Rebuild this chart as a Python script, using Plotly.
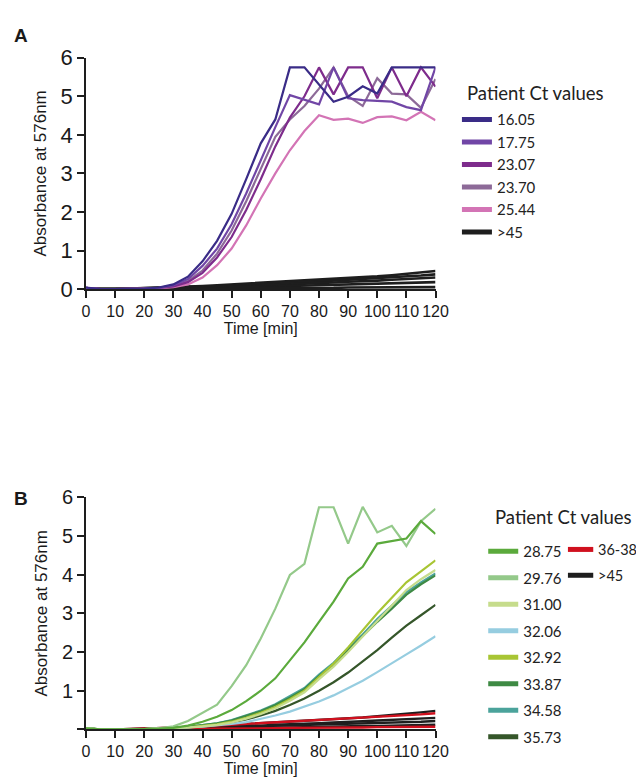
import plotly.graph_objects as go

# time points (min)
time = [0, 5, 10, 15, 20, 25, 30, 35, 40, 45, 50, 55, 60, 65, 70, 75, 80, 85, 90, 95, 100, 105, 110, 115, 120]

# ---- panel A: absorbance at 576nm ----
a_labels = ['16.05', '17.75', '23.07', '23.70', '25.44']
a_colors = ['#3A2C87', '#7146A6', '#7E2C8C', '#8D6A98', '#D374B5']
a_16_05 = [0.04, 0.0, 0.0, 0.0, 0.01, 0.04, 0.12, 0.32, 0.72, 1.25, 1.95, 2.85, 3.78, 4.40, 5.75, 5.75, 5.30, 4.86, 4.99, 5.26, 5.07, 5.75, 5.75, 5.75, 5.75]
a_17_75 = [0.03, 0.0, 0.0, 0.0, 0.01, 0.03, 0.10, 0.26, 0.60, 1.05, 1.68, 2.48, 3.35, 4.20, 5.03, 4.90, 4.79, 5.75, 4.95, 4.90, 4.88, 4.86, 4.72, 4.64, 5.75]
a_23_07 = [0.03, 0.0, 0.0, 0.0, 0.01, 0.03, 0.07, 0.18, 0.42, 0.82, 1.35, 2.05, 2.85, 3.70, 4.45, 5.00, 5.75, 5.05, 5.75, 5.75, 4.95, 5.75, 5.00, 5.75, 5.25]
a_23_70 = [0.03, 0.0, 0.0, 0.0, 0.01, 0.03, 0.08, 0.21, 0.48, 0.92, 1.52, 2.28, 3.12, 3.95, 4.40, 4.75, 5.20, 5.75, 5.00, 4.75, 5.47, 5.07, 5.05, 4.70, 5.45]
a_25_44 = [0.03, 0.0, 0.0, 0.0, 0.01, 0.02, 0.05, 0.12, 0.30, 0.62, 1.05, 1.65, 2.35, 3.00, 3.60, 4.10, 4.51, 4.39, 4.42, 4.31, 4.46, 4.48, 4.38, 4.60, 4.38]
a_series = [a_16_05, a_17_75, a_23_07, a_23_70, a_25_44]

# >45 negatives, panel A
a_neg = [
    [0.02, 0.0, 0.0, 0.01, 0.02, 0.03, 0.05, 0.06, 0.08, 0.10, 0.12, 0.14, 0.16, 0.18, 0.20, 0.22, 0.24, 0.26, 0.28, 0.30, 0.33, 0.36, 0.40, 0.43, 0.47],
    [0.02, 0.0, 0.0, 0.01, 0.02, 0.03, 0.04, 0.05, 0.07, 0.08, 0.10, 0.11, 0.13, 0.15, 0.16, 0.18, 0.20, 0.22, 0.24, 0.26, 0.28, 0.30, 0.33, 0.35, 0.38],
    [0.02, 0.0, 0.0, 0.0, 0.01, 0.02, 0.03, 0.04, 0.05, 0.06, 0.07, 0.08, 0.10, 0.11, 0.12, 0.14, 0.15, 0.17, 0.19, 0.20, 0.22, 0.24, 0.26, 0.28, 0.30],
    [0.02, 0.0, 0.0, 0.0, 0.01, 0.01, 0.02, 0.02, 0.03, 0.04, 0.04, 0.05, 0.06, 0.07, 0.08, 0.09, 0.10, 0.11, 0.12, 0.13, 0.14, 0.15, 0.16, 0.17, 0.18],
    [0.02, 0.0, 0.0, 0.0, 0.0, 0.0, 0.01, 0.01, 0.01, 0.01, 0.02, 0.02, 0.02, 0.02, 0.03, 0.03, 0.03, 0.03, 0.04, 0.04, 0.04, 0.04, 0.05, 0.05, 0.05],
]

# ---- panel B ----
b_labels = ['28.75', '29.76', '31.00', '32.06', '32.92', '33.87', '34.58', '35.73']
b_colors = ['#5BAA3C', '#94C98A', '#C6DC8C', '#96CDE0', '#A8C534', '#3E8A44', '#4BA39B', '#35562A']
b_28_75 = [0.03, 0.0, 0.0, 0.0, 0.01, 0.02, 0.04, 0.10, 0.20, 0.33, 0.50, 0.73, 1.00, 1.32, 1.78, 2.25, 2.78, 3.30, 3.90, 4.20, 4.80, 4.87, 4.93, 5.38, 5.05]
b_29_76 = [0.03, 0.0, 0.0, 0.0, 0.01, 0.03, 0.08, 0.22, 0.42, 0.64, 1.12, 1.66, 2.35, 3.12, 3.99, 4.28, 5.74, 5.74, 4.80, 5.75, 5.09, 5.26, 4.74, 5.38, 5.70]
b_31_00 = [0.03, 0.0, 0.0, 0.0, 0.01, 0.02, 0.03, 0.05, 0.08, 0.12, 0.18, 0.28, 0.40, 0.55, 0.74, 0.96, 1.30, 1.62, 2.00, 2.40, 2.82, 3.22, 3.60, 3.88, 4.12]
b_32_06 = [0.03, 0.0, 0.0, 0.0, 0.01, 0.02, 0.03, 0.05, 0.07, 0.10, 0.14, 0.19, 0.27, 0.36, 0.46, 0.58, 0.72, 0.88, 1.06, 1.26, 1.48, 1.70, 1.94, 2.17, 2.41]
b_32_92 = [0.03, 0.0, 0.0, 0.0, 0.01, 0.02, 0.03, 0.05, 0.09, 0.13, 0.20, 0.30, 0.43, 0.58, 0.78, 1.00, 1.35, 1.70, 2.12, 2.55, 3.00, 3.40, 3.80, 4.08, 4.37]
b_33_87 = [0.03, 0.0, 0.0, 0.0, 0.01, 0.02, 0.04, 0.07, 0.11, 0.16, 0.23, 0.34, 0.47, 0.63, 0.82, 1.04, 1.38, 1.68, 2.05, 2.40, 2.78, 3.12, 3.48, 3.75, 3.98]
b_34_58 = [0.03, 0.0, 0.0, 0.0, 0.01, 0.02, 0.04, 0.07, 0.11, 0.16, 0.24, 0.36, 0.49, 0.65, 0.85, 1.07, 1.42, 1.72, 2.10, 2.45, 2.85, 3.20, 3.55, 3.80, 4.03]
b_35_73 = [0.03, 0.0, 0.0, 0.0, 0.01, 0.02, 0.03, 0.05, 0.08, 0.12, 0.18, 0.26, 0.36, 0.48, 0.63, 0.80, 1.00, 1.22, 1.47, 1.75, 2.05, 2.37, 2.68, 2.95, 3.22]
b_series = [b_28_75, b_29_76, b_31_00, b_32_06, b_32_92, b_33_87, b_34_58, b_35_73]

# >45 negatives and 36-38 weak positives, panel B
b_neg = [
    [0.02, 0.0, 0.0, 0.01, 0.02, 0.03, 0.05, 0.06, 0.08, 0.10, 0.12, 0.14, 0.16, 0.18, 0.20, 0.22, 0.24, 0.26, 0.28, 0.31, 0.34, 0.37, 0.40, 0.44, 0.48],
    [0.02, 0.0, 0.0, 0.0, 0.01, 0.02, 0.03, 0.04, 0.05, 0.06, 0.08, 0.09, 0.10, 0.12, 0.13, 0.14, 0.16, 0.18, 0.19, 0.21, 0.23, 0.25, 0.27, 0.28, 0.30],
    [0.02, 0.0, 0.0, 0.0, 0.01, 0.01, 0.02, 0.03, 0.04, 0.05, 0.06, 0.07, 0.08, 0.09, 0.10, 0.11, 0.12, 0.13, 0.14, 0.15, 0.16, 0.18, 0.19, 0.20, 0.22],
    [0.02, 0.0, 0.0, 0.0, 0.0, 0.01, 0.01, 0.02, 0.02, 0.03, 0.03, 0.04, 0.04, 0.05, 0.05, 0.06, 0.07, 0.07, 0.08, 0.09, 0.09, 0.10, 0.11, 0.11, 0.12],
]
b_red = [
    [0.02, 0.0, 0.0, 0.01, 0.02, 0.03, 0.04, 0.06, 0.08, 0.10, 0.12, 0.14, 0.16, 0.18, 0.20, 0.22, 0.24, 0.26, 0.28, 0.30, 0.32, 0.34, 0.37, 0.39, 0.42],
    [0.02, 0.0, 0.0, 0.0, 0.0, 0.01, 0.01, 0.01, 0.02, 0.02, 0.02, 0.03, 0.03, 0.03, 0.04, 0.04, 0.04, 0.05, 0.05, 0.05, 0.06, 0.06, 0.06, 0.07, 0.07],
]
b_extra_labels = ['36-38', '>45']

legend_title = 'Patient Ct values'
black = '#1E1E1E'
red = '#D0101E'
axis_font = 'Liberation Sans, Arial, sans-serif'
legend_font = 'Lato, Open Sans, sans-serif'

fig = go.Figure()

# panel A curves
for ys in a_neg:
    fig.add_trace(go.Scatter(x=time, y=ys, mode='lines', line=dict(color=black, width=2.6),
                             showlegend=False, xaxis='x', yaxis='y', hoverinfo='skip'))
for ys, c, lab in zip(a_series[::-1], a_colors[::-1], a_labels[::-1]):
    fig.add_trace(go.Scatter(x=time, y=ys, mode='lines', line=dict(color=c, width=2.2),
                             showlegend=False, name=lab, xaxis='x', yaxis='y'))

# panel B curves
for ys in b_neg:
    fig.add_trace(go.Scatter(x=time, y=ys, mode='lines', line=dict(color=black, width=2.4),
                             showlegend=False, xaxis='x2', yaxis='y2', hoverinfo='skip'))
for ys in b_red:
    fig.add_trace(go.Scatter(x=time, y=ys, mode='lines', line=dict(color=red, width=2.4),
                             showlegend=False, xaxis='x2', yaxis='y2', hoverinfo='skip'))
for ys, c, lab in zip(b_series[::-1], b_colors[::-1], b_labels[::-1]):
    fig.add_trace(go.Scatter(x=time, y=ys, mode='lines', line=dict(color=c, width=2.2),
                             showlegend=False, name=lab, xaxis='x2', yaxis='y2'))

# legend entries (thick swatches)
for i, (lab, c) in enumerate(zip(a_labels + ['>45'], a_colors + [black])):
    fig.add_trace(go.Scatter(x=[None], y=[None], mode='lines', line=dict(color=c, width=5),
                             name=lab, legend='legend', legendgroup='a%d' % i))
for i, (lab, c) in enumerate(zip(b_labels, b_colors)):
    fig.add_trace(go.Scatter(x=[None], y=[None], mode='lines', line=dict(color=c, width=5),
                             name=lab, legend='legend2', legendgroup='b%d' % i,
                             xaxis='x2', yaxis='y2'))

W, H = 644, 778
xdom = [76 / W, 435 / W]

axis_common = dict(showline=True, linecolor=black, linewidth=1.5, ticks='outside', ticklen=7,
                   tickwidth=1.5, tickcolor=black, showgrid=False, zeroline=False,
                   fixedrange=True)

legend_common = dict(yanchor='top', xanchor='left', bgcolor='rgba(0,0,0,0)',
                     font=dict(family=legend_font, size=15, color='#222'))

annotations = [
    dict(text='<b>A</b>', x=0, y=1 - 3 / H, xref='paper', yref='paper',
         xanchor='left', yanchor='top', showarrow=False, font=dict(size=19)),
    dict(text='<b>B</b>', x=0, y=1 - 481 / H, xref='paper', yref='paper',
         xanchor='left', yanchor='top', showarrow=False, font=dict(size=19)),
    dict(text=legend_title, x=465 / W, y=1 - 75 / H, xref='paper', yref='paper',
         xanchor='left', yanchor='middle', showarrow=False,
         font=dict(family=legend_font, size=18.5, color='#222')),
    dict(text=legend_title, x=494 / W, y=1 - 513 / H, xref='paper', yref='paper',
         xanchor='left', yanchor='middle', showarrow=False,
         font=dict(family=legend_font, size=18.5, color='#222')),
]

# second legend column of panel B (36-38, >45), drawn by hand so it fits the page edge
shapes = []
for i, (lab, c) in enumerate(zip(b_extra_labels, [red, black])):
    yc = 1 - (547 + 26.7 * i) / H
    shapes.append(dict(type='line', xref='paper', yref='paper', x0=571 / W, x1=597 / W,
                       y0=yc, y1=yc, line=dict(color=c, width=5)))
    annotations.append(dict(text=lab, x=600 / W, y=yc, xref='paper', yref='paper',
                            xanchor='left', yanchor='middle', showarrow=False,
                            font=dict(family=legend_font, size=14.5, color='#222')))

fig.update_layout(
    width=W, height=H,
    margin=dict(l=0, r=0, t=0, b=0),
    paper_bgcolor='white', plot_bgcolor='white',
    font=dict(family=axis_font, color='#1a1a1a'),
    xaxis=dict(domain=xdom, anchor='y', range=[0, 120], tickvals=list(range(0, 130, 10)),
               tickangle=0, tickfont=dict(size=16),
               title=dict(text='Time [min]', font=dict(size=16), standoff=3),
               **axis_common),
    yaxis=dict(domain=[1 - 278 / H, 1 - 39 / H], anchor='x', range=[0, 6], dtick=1,
               tickfont=dict(size=22),
               title=dict(text='Absorbance at 576nm', font=dict(size=17), standoff=10),
               **axis_common),
    xaxis2=dict(domain=xdom, anchor='y2', range=[0, 120], tickvals=list(range(0, 130, 10)),
                tickangle=0, tickfont=dict(size=16),
                title=dict(text='Time [min]', font=dict(size=16), standoff=3),
                **axis_common),
    yaxis2=dict(domain=[1 - 733 / H, 1 - 493 / H], anchor='x2', range=[0, 6],
                tickvals=[0, 1, 2, 3, 4, 5, 6], ticktext=['', '1', '2', '3', '4', '5', '6'],
                tickfont=dict(size=20),
                title=dict(text='Absorbance at 576nm', font=dict(size=17), standoff=10),
                **axis_common),
    legend=dict(x=457 / W, y=1 - 86 / H, tracegroupgap=0, **legend_common),
    legend2=dict(x=484 / W, y=1 - 532 / H, tracegroupgap=4, **legend_common),
    annotations=annotations,
    shapes=shapes,
)

fig.write_html("out.html")
